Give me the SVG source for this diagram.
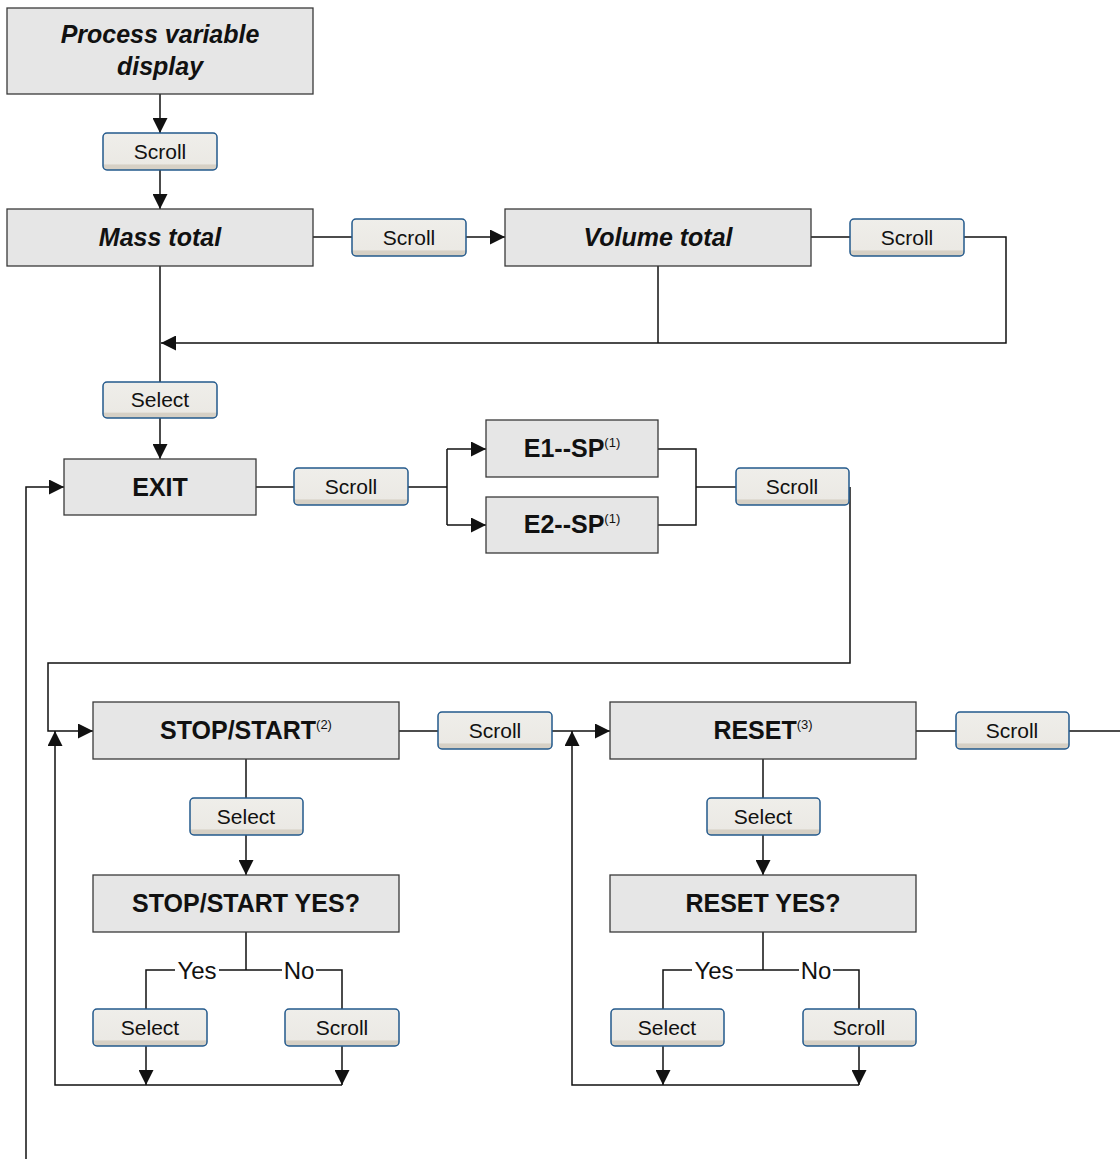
<svg xmlns="http://www.w3.org/2000/svg" width="1120" height="1159" viewBox="0 0 1120 1159">
<style>
.node{fill:#e6e6e6;stroke:#3a3a3a;stroke-width:1.3}
.btn{fill:url(#bg);stroke:#23598c;stroke-width:1.5}
.nt{font-family:"Liberation Sans",Arial,sans-serif;font-size:25px;font-weight:bold;text-anchor:middle;fill:#111}
.it{font-style:italic}
.sup{font-size:13px;font-weight:normal}
.bt{font-family:"Liberation Sans",Arial,sans-serif;font-size:21px;text-anchor:middle;fill:#111}
.lb{font-family:"Liberation Sans",Arial,sans-serif;font-size:24px;text-anchor:middle;fill:#111}
.c{fill:none;stroke:#111;stroke-width:1.5}
.a{marker-end:url(#arr)}
</style>
<defs>
<linearGradient id="bg" x1="0" y1="0" x2="0" y2="1">
<stop offset="0" stop-color="#efeeea"/>
<stop offset="0.84" stop-color="#ebe9e4"/>
<stop offset="0.86" stop-color="#d6d0c5"/>
<stop offset="1" stop-color="#d6d0c5"/>
</linearGradient>
<marker id="arr" markerUnits="userSpaceOnUse" markerWidth="15" markerHeight="15" viewBox="0 0 15 15" refX="15" refY="7.5" orient="auto">
<path d="M0,0 L15,7.5 L0,15 Z" fill="#111"/>
</marker>
</defs>

<g id="connectors">
<path class="c a" d="M160,94 V133"/>
<path class="c a" d="M160,170 V209"/>
<path class="c" d="M313,237 H352"/>
<path class="c a" d="M466,237 H505"/>
<path class="c" d="M811,237 H850"/>
<path class="c a" d="M964,237 H1006 V343 H161"/>
<path class="c" d="M658,266 V343"/>
<path class="c" d="M160,266 V382"/>
<path class="c a" d="M160,418 V459"/>
<path class="c" d="M256,487 H294"/>
<path class="c" d="M408,487 H447 M447,449 V525"/>
<path class="c a" d="M447,449 H486"/>
<path class="c a" d="M447,525 H486"/>
<path class="c" d="M658,449 H696 V525 H658 M696,487 H736"/>
<path class="c a" d="M850,487 V663 H48 V731 H93"/>
<path class="c a" d="M26,1159 V487 H64"/>
<path class="c" d="M399,731 H438"/>
<path class="c a" d="M552,731 H610"/>
<path class="c" d="M916,731 H956"/>
<path class="c" d="M1069,731 H1120"/>
<path class="c" d="M246,759 V798"/>
<path class="c a" d="M246,835 V875"/>
<path class="c" d="M246,932 V970 M146,1009 V970 H175 M219,970 H282 M316,970 H342 V1009"/>
<path class="c a" d="M146,1046 V1085"/>
<path class="c a" d="M342,1046 V1085"/>
<path class="c a" d="M342,1085 H55 V731"/>
<path class="c" d="M763,759 V798"/>
<path class="c a" d="M763,835 V875"/>
<path class="c" d="M763,932 V970 M663,1009 V970 H692 M736,970 H799 M833,970 H859 V1009"/>
<path class="c a" d="M663,1046 V1085"/>
<path class="c a" d="M859,1046 V1085"/>
<path class="c a" d="M859,1085 H572 V731"/>
<text class="lb" x="197" y="979">Yes</text>
<text class="lb" x="299" y="979">No</text>
<text class="lb" x="714" y="979">Yes</text>
<text class="lb" x="816" y="979">No</text>
</g>

<g id="n-pvd"><rect class="node" x="7" y="8" width="306" height="86"/><text class="nt it" x="160" y="43">Process variable</text><text class="nt it" x="160" y="75">display</text></g>
<g id="n-mass"><rect class="node" x="7" y="209" width="306" height="57"/><text class="nt it" x="160" y="246">Mass total</text></g>
<g id="n-volume"><rect class="node" x="505" y="209" width="306" height="57"/><text class="nt it" x="658" y="246">Volume total</text></g>
<g id="n-exit"><rect class="node" x="64" y="459" width="192" height="56"/><text class="nt" x="160" y="496">EXIT</text></g>
<g id="n-e1"><rect class="node" x="486" y="420" width="172" height="57"/><text class="nt" x="572" y="457">E1--SP<tspan class="sup" dy="-10">(1)</tspan></text></g>
<g id="n-e2"><rect class="node" x="486" y="497" width="172" height="56"/><text class="nt" x="572" y="533">E2--SP<tspan class="sup" dy="-10">(1)</tspan></text></g>
<g id="n-stopstart"><rect class="node" x="93" y="702" width="306" height="57"/><text class="nt" x="246" y="739">STOP/START<tspan class="sup" dy="-10">(2)</tspan></text></g>
<g id="n-reset"><rect class="node" x="610" y="702" width="306" height="57"/><text class="nt" x="763" y="739">RESET<tspan class="sup" dy="-10">(3)</tspan></text></g>
<g id="n-ssyes"><rect class="node" x="93" y="875" width="306" height="57"/><text class="nt" x="246" y="912">STOP/START YES?</text></g>
<g id="n-ryes"><rect class="node" x="610" y="875" width="306" height="57"/><text class="nt" x="763" y="912">RESET YES?</text></g>

<g id="b1"><rect class="btn" x="103" y="133" width="114" height="37" rx="4"/><text class="bt" x="160" y="159">Scroll</text></g>
<g id="b2"><rect class="btn" x="352" y="219" width="114" height="37" rx="4"/><text class="bt" x="409" y="245">Scroll</text></g>
<g id="b3"><rect class="btn" x="850" y="219" width="114" height="37" rx="4"/><text class="bt" x="907" y="245">Scroll</text></g>
<g id="b4"><rect class="btn" x="103" y="382" width="114" height="36" rx="4"/><text class="bt" x="160" y="407">Select</text></g>
<g id="b5"><rect class="btn" x="294" y="468" width="114" height="37" rx="4"/><text class="bt" x="351" y="494">Scroll</text></g>
<g id="b6"><rect class="btn" x="736" y="468" width="113" height="37" rx="4"/><text class="bt" x="792" y="494">Scroll</text></g>
<g id="b7"><rect class="btn" x="438" y="712" width="114" height="37" rx="4"/><text class="bt" x="495" y="738">Scroll</text></g>
<g id="b8"><rect class="btn" x="956" y="712" width="113" height="37" rx="4"/><text class="bt" x="1012" y="738">Scroll</text></g>
<g id="b9"><rect class="btn" x="190" y="798" width="113" height="37" rx="4"/><text class="bt" x="246" y="824">Select</text></g>
<g id="b10"><rect class="btn" x="707" y="798" width="113" height="37" rx="4"/><text class="bt" x="763" y="824">Select</text></g>
<g id="b11"><rect class="btn" x="93" y="1009" width="114" height="37" rx="4"/><text class="bt" x="150" y="1035">Select</text></g>
<g id="b12"><rect class="btn" x="285" y="1009" width="114" height="37" rx="4"/><text class="bt" x="342" y="1035">Scroll</text></g>
<g id="b13"><rect class="btn" x="611" y="1009" width="113" height="37" rx="4"/><text class="bt" x="667" y="1035">Select</text></g>
<g id="b14"><rect class="btn" x="803" y="1009" width="113" height="37" rx="4"/><text class="bt" x="859" y="1035">Scroll</text></g>
</svg>
